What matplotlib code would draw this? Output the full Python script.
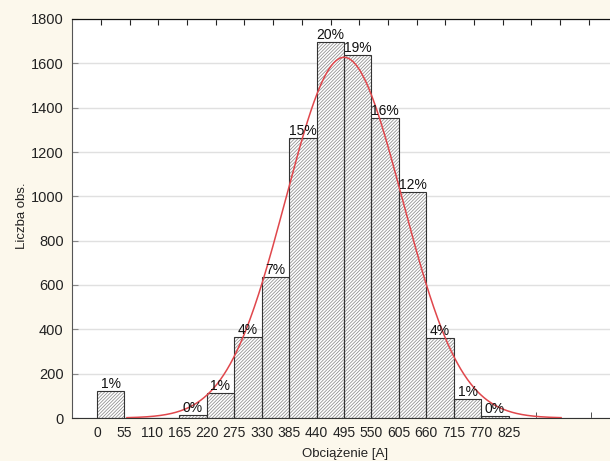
import numpy as np
import matplotlib
matplotlib.use("Agg")
import matplotlib.pyplot as plt

plt.rcParams["font.family"] = ["Liberation Sans", "DejaVu Sans"]
plt.rcParams["hatch.linewidth"] = 0.55

# Histogram of load current: bins of 55 A
bin_width = 55
bin_left = [0, 55, 110, 165, 220, 275, 330, 385, 440, 495, 550, 605, 660, 715, 770]
counts = [120, 0, 0, 12, 115, 364, 637, 1264, 1696, 1637, 1353, 1021, 360, 87, 10]
tick_values = [0, 55, 110, 165, 220, 275, 330, 385, 440, 495, 550, 605, 660, 715, 770, 825]
y_ticks = [0, 200, 400, 600, 800, 1000, 1200, 1400, 1600, 1800]

# Fitted normal distribution (expected counts)
fit_mean = 495.0
fit_sd = 117.0
curve_range = (60, 930)

total = sum(counts)
percents = [round(100 * c / total) for c in counts]

fig = plt.figure(figsize=(6.10, 4.61), dpi=100, facecolor="#fcf8ec")
ax = fig.add_axes([72 / 610, 43 / 461, 538 / 610, 399 / 461])
ax.set_facecolor("white")

# hatched fill
ax.bar(bin_left, counts, width=bin_width, align="edge", color="white",
       edgecolor="#8c8c8c", hatch="//////////", linewidth=0, zorder=2)
# outlines
ax.bar(bin_left, counts, width=bin_width, align="edge", fill=False,
       edgecolor="#333333", linewidth=0.8, zorder=3)

xs = np.linspace(curve_range[0], curve_range[1], 400)
ys = total * bin_width / (fit_sd * np.sqrt(2 * np.pi)) * np.exp(-0.5 * ((xs - fit_mean) / fit_sd) ** 2)
ax.plot(xs, ys, color="#e0474c", lw=1.1, zorder=4)

for left, c, p in zip(bin_left, counts, percents):
    if c > 0:
        ax.text(left + bin_width / 2, c, f"{p}%", ha="center", va="bottom",
                fontsize=10, color="#111111", zorder=5)

ax.set_xlim(-50, 1028)
ax.set_ylim(0, 1800)

ax.set_xticks(tick_values)
ax.set_xticklabels([str(v) for v in tick_values])
ax.set_xticks(np.arange(110, 1000, 110), minor=True)
ax.tick_params(axis="x", which="major", length=0, labelsize=10, pad=6, labelcolor="#222222")
ax.tick_params(axis="x", which="minor", direction="in", length=4, color="#333333",
               labelbottom=False)

ax.set_yticks(y_ticks)
ax.tick_params(axis="y", direction="in", length=4, color="#888888", labelsize=10.5,
               pad=6, labelcolor="#222222")
ax.yaxis.grid(True, color="#e0e0e0", lw=1.0)
ax.set_axisbelow(True)

secax = ax.secondary_xaxis("top")
secax.set_xticks(8.1 + 57.5 * np.arange(18))
secax.set_xticklabels([])
secax.tick_params(direction="in", length=4, color="#222222")
secax.spines["top"].set_color("#111111")

ax.spines["right"].set_visible(False)
ax.spines["top"].set_color("#111111")
ax.spines["left"].set_color("#555555")
ax.spines["bottom"].set_color("#333333")

fig.text(22 / 610, 1 - 216 / 461, "Liczba obs.", rotation=90, ha="center",
         va="center", fontsize=9.5, color="#222222")
fig.text(345 / 610, 1 - 454 / 461, "Obciążenie [A]", ha="center", va="center",
         fontsize=9.5, color="#222222")

fig.savefig("out.png", dpi=100, facecolor=fig.get_facecolor())
